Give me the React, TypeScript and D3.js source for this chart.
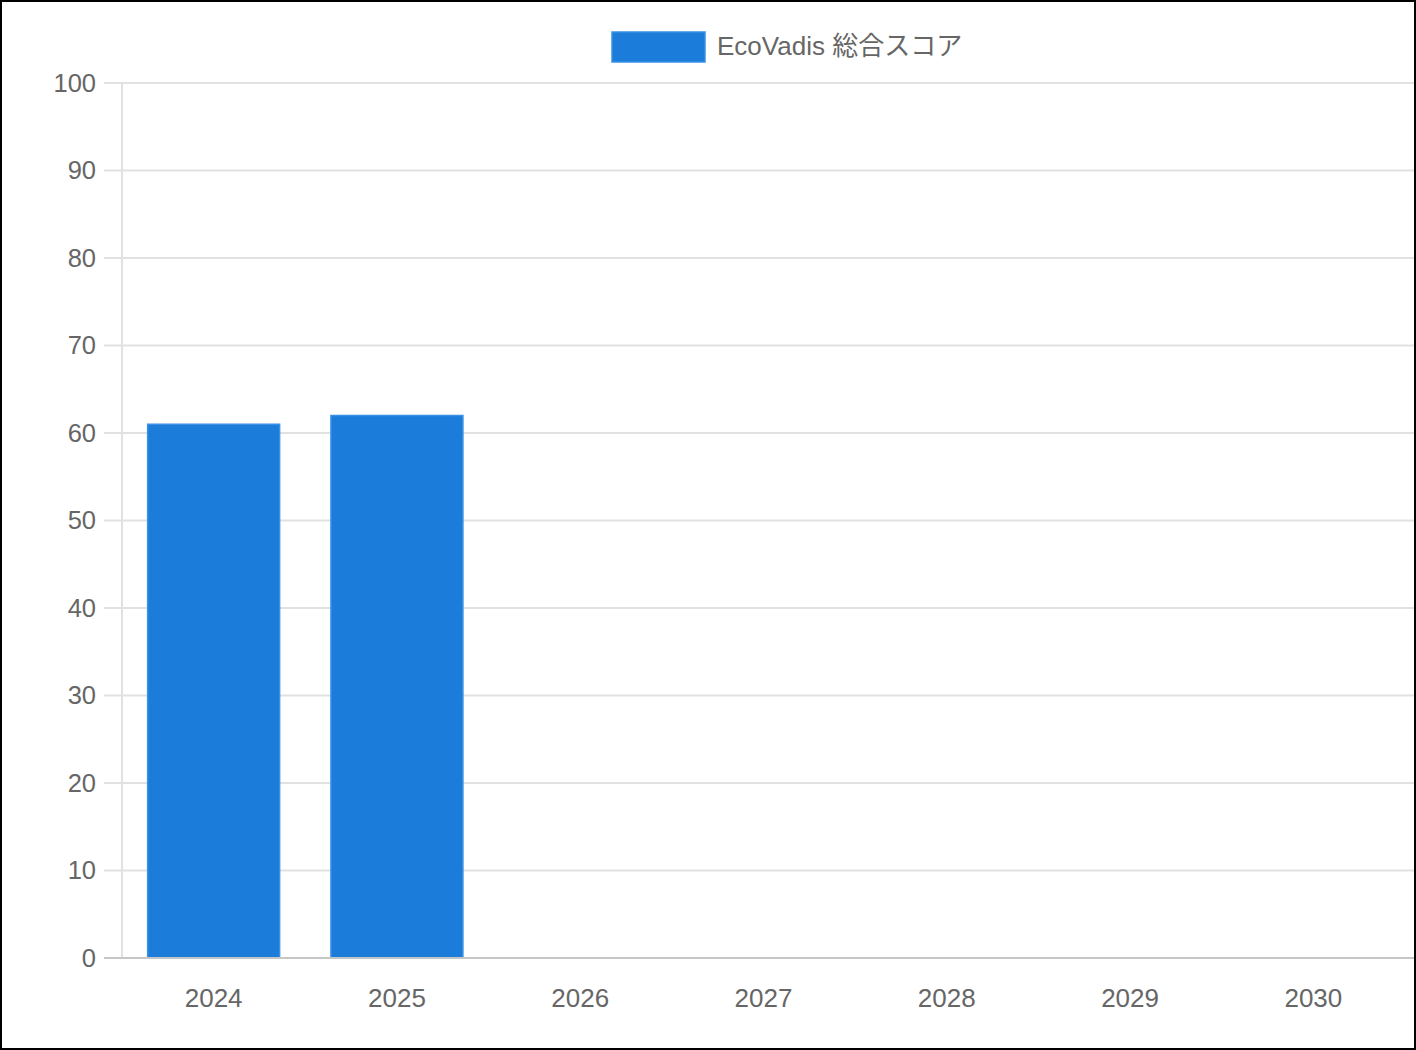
import React, { useEffect } from 'react';
import * as d3 from 'd3';

const years = ['2024', '2025', '2026', '2027', '2028', '2029', '2030'];
const scores: (number | null)[] = [61, 62, null, null, null, null, null];
const yTicks = [0, 10, 20, 30, 40, 50, 60, 70, 80, 90, 100];
const seriesName = 'EcoVadis 総合スコア';

const W = 1416;
const H = 1050;
const FONT = '"Liberation Sans", Arial, "Noto Sans CJK JP", sans-serif';

const App: React.FC = () => {
  const svgRef = React.useRef<SVGSVGElement>(null);

  useEffect(() => {
    document.body.style.margin = '0';
    const svg = d3.select(svgRef.current);
    svg.selectAll('*').remove();

    const left = 122;
    const right = 1405;
    const top = 83;
    const bottom = 958;

    const x = d3.scaleBand<string>().domain(years).range([left, right]).paddingInner(0).paddingOuter(0);
    const y = d3.scaleLinear().domain([0, 100]).range([bottom, top]);

    svg.append('rect').attr('width', W).attr('height', H).attr('fill', '#fff');

    // horizontal grid + tick marks
    svg.append('g')
      .selectAll('line')
      .data(yTicks.filter(t => t !== 0))
      .enter()
      .append('line')
      .attr('x1', 104)
      .attr('x2', 1414)
      .attr('y1', d => y(d))
      .attr('y2', d => y(d))
      .attr('stroke', '#e1e1e1')
      .attr('stroke-width', 2);

    // y axis line
    svg.append('line')
      .attr('x1', left).attr('x2', left)
      .attr('y1', top).attr('y2', bottom)
      .attr('stroke', '#e1e1e1')
      .attr('stroke-width', 2);

    // y labels
    svg.append('g')
      .selectAll('text')
      .data(yTicks)
      .enter()
      .append('text')
      .attr('x', 96)
      .attr('y', d => y(d))
      .attr('dy', '0.35em')
      .attr('text-anchor', 'end')
      .style('font-family', FONT)
      .style('font-size', '25.5px')
      .style('fill', '#666')
      .text(d => d);

    // bars
    const barW = x.bandwidth() * 0.72;
    svg.append('g')
      .selectAll('rect')
      .data(years.map((yr, i) => ({ yr, v: scores[i] })).filter(d => d.v !== null))
      .enter()
      .append('rect')
      .attr('x', d => (x(d.yr) as number) + (x.bandwidth() - barW) / 2)
      .attr('y', d => y(d.v as number))
      .attr('width', barW)
      .attr('height', d => bottom - y(d.v as number))
      .attr('fill', '#1b7cda')
      .attr('stroke', '#3a90e6')
      .attr('stroke-width', 1.5);

    // x axis line
    svg.append('line')
      .attr('x1', 104).attr('x2', 1414)
      .attr('y1', bottom).attr('y2', bottom)
      .attr('stroke', '#c6c6c6')
      .attr('stroke-width', 2);

    // x labels
    svg.append('g')
      .selectAll('text')
      .data(years)
      .enter()
      .append('text')
      .attr('x', d => (x(d) as number) + x.bandwidth() / 2)
      .attr('y', 1007)
      .attr('text-anchor', 'middle')
      .style('font-family', FONT)
      .style('font-size', '26px')
      .style('fill', '#666')
      .text(d => d);

    // legend
    const legend = svg.append('g');
    legend.append('rect')
      .attr('x', 612).attr('y', 32)
      .attr('width', 93).attr('height', 30)
      .attr('fill', '#1b7cda')
      .attr('stroke', '#3a90e6')
      .attr('stroke-width', 1.5);
    legend.append('text')
      .attr('x', 717)
      .attr('y', 55)
      .style('font-family', FONT)
      .style('font-size', '26px')
      .style('fill', '#666')
      .text(seriesName);

    // outer frame
    svg.append('rect')
      .attr('x', 1).attr('y', 1)
      .attr('width', W - 2).attr('height', H - 2)
      .attr('fill', 'none')
      .attr('stroke', '#000')
      .attr('stroke-width', 2);
  }, []);

  return <svg ref={svgRef} width={W} height={H} style={{ display: 'block' }}></svg>;
};

export default App;
